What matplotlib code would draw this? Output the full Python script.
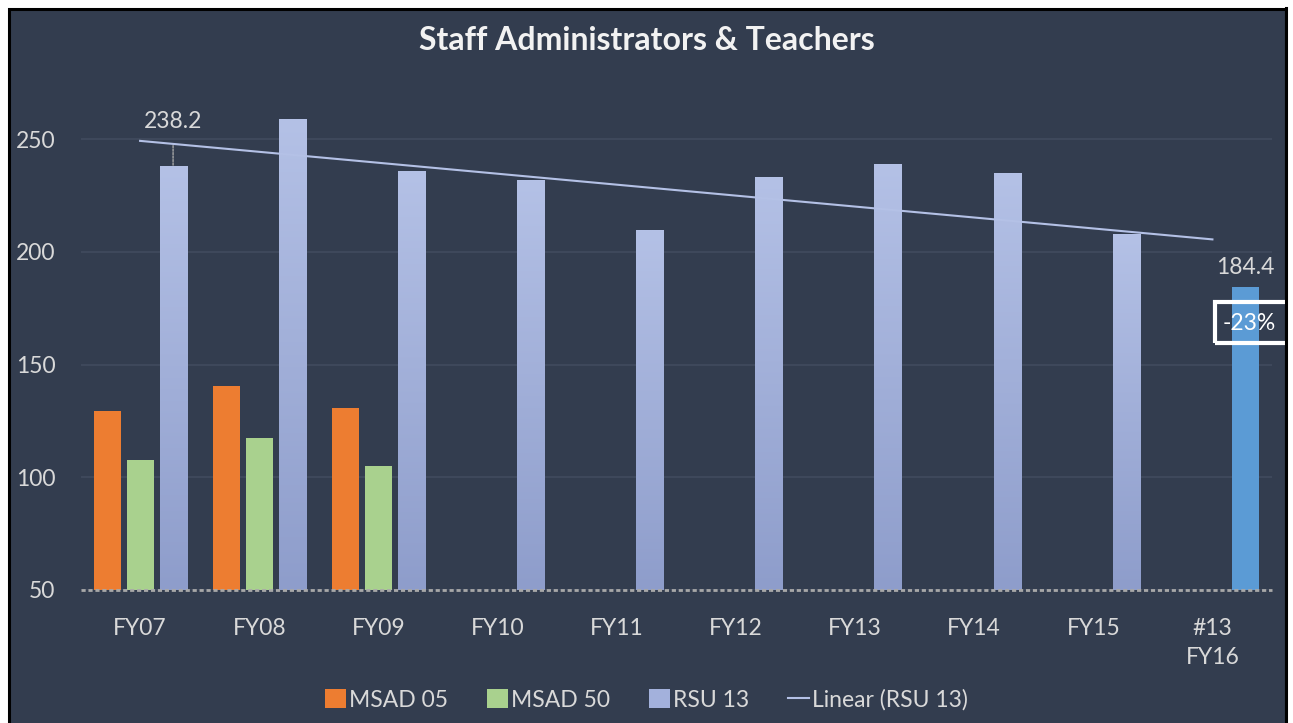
import numpy as np
import matplotlib
matplotlib.use("Agg")
import matplotlib.pyplot as plt
from matplotlib.patches import Rectangle, Patch
from matplotlib.lines import Line2D
from matplotlib.colors import LinearSegmentedColormap

plt.rcParams['font.family'] = ['Lato', 'DejaVu Sans']

# ---------------- data ----------------
categories = ["FY07", "FY08", "FY09", "FY10", "FY11", "FY12", "FY13", "FY14", "FY15", "#13\nFY16"]
msad05 = [129.5, 140.4, 130.7]          # FY07-FY09
msad50 = [107.7, 117.5, 105.0]          # FY07-FY09
rsu13 = [238.2, 258.8, 236.0, 231.8, 209.6, 233.1, 238.9, 234.9, 207.9, 184.4]
yticks = [50, 100, 150, 200, 250]
title = "Staff Administrators & Teachers"
change_label = "-23%"

# ---------------- style ----------------
BG = "#333d4f"
TXT = "#d9d9d9"
ORANGE = "#ed7d31"
GREEN = "#a9d18e"
RSU_TOP = "#b4c1e6"
RSU_BOT = "#8e9dcb"
BLUE = "#5b9bd5"
GRID = "#414b5e"
FS = 16.5

W, H = 1293, 723
fig = plt.figure(figsize=(W / 100, H / 100), dpi=100, facecolor="white")

# dark panel with black frame (extends beyond bottom edge)
frame = Rectangle((9 / W, -0.05), (1286 - 9) / W, (1 - 9 / H) + 0.05,
                  transform=fig.transFigure, facecolor=BG, edgecolor="black",
                  linewidth=2.2, zorder=-5)
fig.patches.append(frame)

ax = fig.add_axes([80.5 / W, (H - 590) / H, (1272 - 80.5) / W, (590 - 94) / H])
ax.set_facecolor("none")
ax.set_zorder(1)

x = np.arange(len(categories))
bw = 0.227
off = 0.277
ymin, ymax = 50, 270

ax.bar(x[:len(msad05)] - off, msad05, bw, color=ORANGE, zorder=3)
ax.bar(x[:len(msad50)], msad50, bw, color=GREEN, zorder=3)

rsu_colors = ["none"] * (len(rsu13) - 1) + [BLUE]
bars = ax.bar(x + off, rsu13, bw, color=rsu_colors, zorder=3)
cmap = LinearSegmentedColormap.from_list("rsu", [RSU_BOT, RSU_TOP])
grad = np.linspace(0, 1, 256).reshape(-1, 1)
for b, v in zip(bars[:-1], rsu13[:-1]):
    x0 = b.get_x()
    im = ax.imshow(grad, extent=(x0, x0 + b.get_width(), ymin, v), origin="lower",
                   cmap=cmap, aspect="auto", zorder=3)
    im.set_clip_path(b)

# linear trendline
coef = np.polyfit(x, rsu13, 1)
ax.plot(x, np.polyval(coef, x), color=RSU_TOP, lw=1.5, zorder=4)

# data labels
ax.annotate(f"{rsu13[0]:.1f}", xy=(x[0] + off, rsu13[0]), xytext=(0, 32),
            textcoords="offset points", ha="center", va="center", color=TXT, fontsize=FS,
            arrowprops=dict(arrowstyle="-", color="#a6a6a6", lw=1, linestyle=(0, (1.5, 1)),
                            shrinkA=8, shrinkB=0), zorder=5)
ax.annotate(f"{rsu13[-1]:.1f}", xy=(x[-1] + off, rsu13[-1]), xytext=(0, 14),
            textcoords="offset points", ha="center", va="center", color=TXT, fontsize=FS, zorder=5)

# axes styling
ax.set_xlim(-0.5, len(categories) - 0.5)
ax.set_ylim(ymin, ymax)
ax.set_yticks(yticks)
ax.set_xticks(x)
ax.set_xticklabels(categories, linespacing=1.5)
ax.tick_params(axis="both", length=0, colors=TXT, labelsize=FS)
ax.tick_params(axis="y", pad=18)
ax.tick_params(axis="x", pad=20)
for s in ax.spines.values():
    s.set_visible(False)
ax.grid(axis="y", color=GRID, lw=1.2, zorder=1)
ax.set_axisbelow(True)
ax.axhline(ymin, color="#a8a8a8", lw=2, linestyle=(0, (1.5, 1)), zorder=6, clip_on=False)

fig.text(0.5, 1 - 40 / H, title, ha="center", va="center", color="#f2f2f2",
         fontsize=23, fontweight="bold")

# change box
box = Rectangle((1215 / W, (H - 343) / H), 100 / W, 41 / H, transform=fig.transFigure,
                facecolor="none", edgecolor="white", linewidth=3, zorder=8)
fig.patches.append(box)
fig.text(1249 / W, 1 - 323 / H, change_label, ha="center", va="center", color="white",
         fontsize=FS, zorder=9)
# right side outside the frame stays white, frame edge on top
fig.patches.append(Rectangle((1286 / W, 0), 10 / W, 1, transform=fig.transFigure,
                             facecolor="white", edgecolor="none", zorder=10))
fig.lines.append(Line2D([1286 / W, 1286 / W], [0, 1 - 8 / H], transform=fig.transFigure,
                        color="black", lw=2.2, zorder=11))

handles = [Patch(facecolor=ORANGE), Patch(facecolor=GREEN), Patch(facecolor="#a3b1dc"),
           Line2D([], [], color=RSU_TOP, lw=1.5)]
labels = ["MSAD 05", "MSAD 50", "RSU 13", "Linear (RSU 13)"]
fig.legend(handles, labels, loc="center", bbox_to_anchor=(0.5, 1 - 700 / H), ncol=4,
           frameon=False, fontsize=FS, labelcolor=TXT, handlelength=0.9, handleheight=0.9,
           handletextpad=0.15, columnspacing=1.7)

fig.savefig("out.png", dpi=100, facecolor="white")
